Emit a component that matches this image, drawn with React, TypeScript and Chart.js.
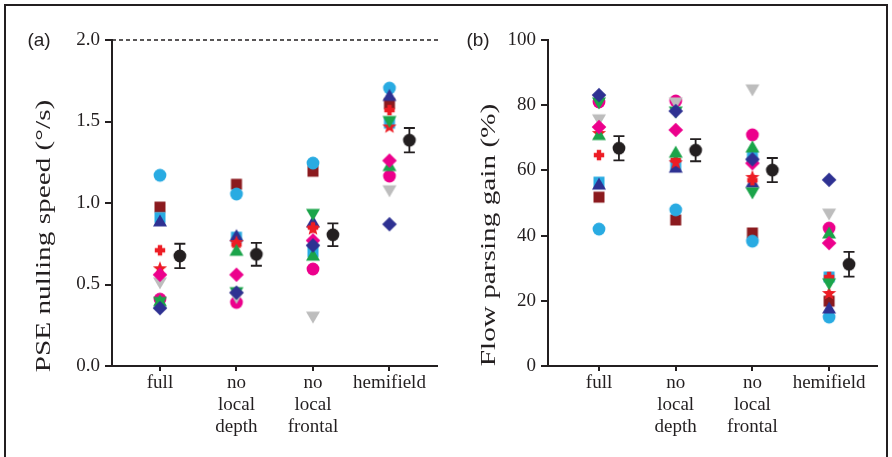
import React, { useEffect, useRef } from "react";
import { Chart, registerables } from "chart.js";
Chart.register(...registerables);

// ---------- data ----------
const categoryLabels: string[][] = [["full"], ["no", "local", "depth"], ["no", "local", "frontal"], ["hemifield"]];

// panel (a): PSE nulling speed (deg/s), one array per subject, categories in order
const pseLightBlueCircle = [1.17, 1.055, 1.245, 1.705];
const pseDarkRedSquare = [0.975, 1.115, 1.195, 1.61];
const pseLightBlueSquare = [0.91, 0.79, 0.7, 1.49];
const pseNavyTriangle = [0.89, 0.8, 0.885, 1.66];
const pseRedCross = [0.71, 0.745, 0.85, 1.57];
const pseRedStar = [0.6, 0.76, 0.845, 1.47];
const pseMagentaCircle = [0.41, 0.39, 0.595, 1.165];
const pseGrayDown = [0.51, 0.42, 0.3, 1.075];
const pseGreenUp = [0.4, 0.71, 0.68, 1.23];
const pseGreenDown = [0.39, 0.45, 0.93, 1.5];
const pseMagentaDiamond = [0.56, 0.56, 0.77, 1.26];
const pseNavyDiamond = [0.355, 0.45, 0.74, 0.87];
const pseMean = [0.675, 0.685, 0.805, 1.385];
const pseSem = [0.075, 0.07, 0.07, 0.075];
const pseTicks = [0, 0.5, 1, 1.5, 2];
const pseTickLabels = ["0.0", "0.5", "1.0", "1.5", "2.0"];

// panel (b): flow parsing gain (%)
const fpgLightBlueCircle = [42, 47.9, 38.3, 15.0];
const fpgDarkRedSquare = [51.8, 44.8, 40.8, 19.9];
const fpgLightBlueSquare = [56.4, 61.7, 64.1, 27.3];
const fpgNavyTriangle = [55.8, 61, 56.4, 17.8];
const fpgRedCross = [64.7, 63.2, 57, 27.3];
const fpgRedStar = [71.5, 62.5, 58.0, 22.4];
const fpgMagentaCircle = [81, 81.3, 70.9, 42.3];
const fpgGrayDown = [75.5, 80.7, 84.7, 46.6];
const fpgGreenUp = [71, 65.6, 67.2, 40.8];
const fpgGreenDown = [80.7, 77.9, 53.1, 25.2];
const fpgMagentaDiamond = [73.3, 72.4, 62.2, 37.7];
const fpgNavyDiamond = [83.1, 78.2, 63.4, 57.1];
const fpgMean = [66.8, 66.2, 60.1, 31.2];
const fpgSem = [3.7, 3.4, 3.7, 3.8];
const fpgTicks = [0, 20, 40, 60, 80, 100];
const fpgTickLabels = ["0", "20", "40", "60", "80", "100"];

// ---------- style ----------
const INK = "#231F20";
const SERIF = "'Liberation Serif', 'Times New Roman', serif";
const SANS = "'Liberation Sans', Arial, sans-serif";
const C = {
  lightBlue: "#29ABE2",
  darkRed: "#8B1A1E",
  navy: "#2E3192",
  red: "#ED1C24",
  magenta: "#EC008C",
  gray: "#BDBDBD",
  green: "#1BA44A",
};

// drawing order bottom -> top
const subjects = [
  { shape: "square", color: C.darkRed, a: pseDarkRedSquare, b: fpgDarkRedSquare },
  { shape: "square", color: C.lightBlue, a: pseLightBlueSquare, b: fpgLightBlueSquare },
  { shape: "circle", color: C.lightBlue, a: pseLightBlueCircle, b: fpgLightBlueCircle },
  { shape: "triUp", color: C.navy, a: pseNavyTriangle, b: fpgNavyTriangle },
  { shape: "plus", color: C.red, a: pseRedCross, b: fpgRedCross },
  { shape: "star", color: C.red, a: pseRedStar, b: fpgRedStar },
  { shape: "circle", color: C.magenta, a: pseMagentaCircle, b: fpgMagentaCircle },
  { shape: "triDown", color: C.gray, a: pseGrayDown, b: fpgGrayDown },
  { shape: "triUp", color: C.green, a: pseGreenUp, b: fpgGreenUp },
  { shape: "triDown", color: C.green, a: pseGreenDown, b: fpgGreenDown },
  { shape: "diamond", color: C.magenta, a: pseMagentaDiamond, b: fpgMagentaDiamond },
  { shape: "diamond", color: C.navy, a: pseNavyDiamond, b: fpgNavyDiamond },
];

function makeMarker(shape: string, color: string): HTMLCanvasElement {
  const S = 18;
  const c = document.createElement("canvas");
  c.width = S;
  c.height = S;
  const g = c.getContext("2d")!;
  g.fillStyle = color;
  const m = S / 2;
  g.beginPath();
  switch (shape) {
    case "circle":
      g.arc(m, m, 6.4, 0, Math.PI * 2);
      break;
    case "square":
      g.rect(m - 5.5, m - 5.5, 11, 11);
      break;
    case "triUp":
      g.moveTo(m, m - 6.5);
      g.lineTo(m + 7, m + 5.5);
      g.lineTo(m - 7, m + 5.5);
      g.closePath();
      break;
    case "triDown":
      g.moveTo(m, m + 6.5);
      g.lineTo(m + 7, m - 5.5);
      g.lineTo(m - 7, m - 5.5);
      g.closePath();
      break;
    case "diamond":
      g.moveTo(m, m - 7.3);
      g.lineTo(m + 7.3, m);
      g.lineTo(m, m + 7.3);
      g.lineTo(m - 7.3, m);
      g.closePath();
      break;
    case "plus":
      g.rect(m - 5.2, m - 2.2, 10.4, 4.4);
      g.rect(m - 2.2, m - 5.2, 4.4, 10.4);
      break;
    case "star": {
      for (let k = 0; k < 10; k++) {
        const r = k % 2 === 0 ? 7.5 : 3.2;
        const ang = -Math.PI / 2 + (k * Math.PI) / 5;
        const px = m + r * Math.cos(ang);
        const py = m + 0.5 + r * Math.sin(ang);
        if (k === 0) g.moveTo(px, py);
        else g.lineTo(px, py);
      }
      g.closePath();
      break;
    }
  }
  g.fill();
  return c;
}

type PanelCfg = {
  left: number;
  width: number;
  axisWidth: number;
  padRight: number;
  xMin: number;
  xMax: number;
  yMin: number;
  yMax: number;
  ticks: number[];
  tickLabels: string[];
  key: "a" | "b";
  mean: number[];
  sem: number[];
  title: string;
  titleBaseX: number;
  titleCenterY: number;
  panelLabel: string;
  panelLabelX: number;
  dashedTop: boolean;
};

const MEAN_OFFSET = 0.26;

function Panel({ cfg }: { cfg: PanelCfg }) {
  const ref = useRef<HTMLCanvasElement>(null);
  useEffect(() => {
    const datasets: any[] = subjects.map((s) => ({
      data: s[cfg.key].map((v, i) => ({ x: i, y: v })),
      pointStyle: makeMarker(s.shape, s.color),
      pointRadius: 6,
      pointHoverRadius: 6,
      backgroundColor: s.color,
      borderWidth: 0,
    }));
    datasets.push({
      data: cfg.mean.map((v, i) => ({ x: i + MEAN_OFFSET, y: v })),
      pointStyle: makeMarker("circle", INK),
      pointRadius: 6,
      pointHoverRadius: 6,
      backgroundColor: INK,
      borderWidth: 0,
    });
    // Chart.js draws dataset 0 last (on top) -> reverse
    datasets.reverse();

    const decor = {
      id: "decor",
      beforeDatasetsDraw(chart: any) {
        const ctx = chart.ctx;
        const xs = chart.scales.x;
        const ys = chart.scales.y;
        const area = chart.chartArea;
        ctx.save();
        ctx.strokeStyle = INK;
        // x axis line (slight overhang to the left)
        ctx.lineWidth = 2;
        ctx.beginPath();
        ctx.moveTo(area.left - 5, area.bottom);
        ctx.lineTo(area.right, area.bottom);
        ctx.stroke();
        if (cfg.dashedTop) {
          ctx.lineWidth = 1.5;
          ctx.setLineDash([4, 3]);
          const y = ys.getPixelForValue(cfg.yMax);
          ctx.beginPath();
          ctx.moveTo(area.left, y);
          ctx.lineTo(area.right, y);
          ctx.stroke();
          ctx.setLineDash([]);
        }
        // error bars
        ctx.lineWidth = 1.8;
        cfg.mean.forEach((m, i) => {
          const x = xs.getPixelForValue(i + MEAN_OFFSET);
          const y1 = ys.getPixelForValue(m + cfg.sem[i]);
          const y0 = ys.getPixelForValue(m - cfg.sem[i]);
          ctx.beginPath();
          ctx.moveTo(x, y0);
          ctx.lineTo(x, y1);
          ctx.moveTo(x - 5.5, y0);
          ctx.lineTo(x + 5.5, y0);
          ctx.moveTo(x - 5.5, y1);
          ctx.lineTo(x + 5.5, y1);
          ctx.stroke();
        });
        ctx.restore();
      },
      afterDraw(chart: any) {
        const ctx = chart.ctx;
        ctx.save();
        ctx.fillStyle = INK;
        // y-axis title
        ctx.translate(cfg.titleBaseX, cfg.titleCenterY);
        ctx.rotate(-Math.PI / 2);
        ctx.scale(1.33, 1);
        ctx.font = `22px ${SERIF}`;
        ctx.textAlign = "center";
        ctx.textBaseline = "alphabetic";
        ctx.fillText(cfg.title, 0, 0);
        ctx.restore();
        ctx.save();
        ctx.fillStyle = INK;
        ctx.font = `19px ${SANS}`;
        ctx.textAlign = "center";
        ctx.textBaseline = "middle";
        ctx.fillText(cfg.panelLabel, cfg.panelLabelX, 41);
        ctx.restore();
      },
    };

    const chart = new Chart(ref.current!, {
      type: "scatter",
      data: { datasets },
      options: {
        responsive: false,
        devicePixelRatio: 1,
        animation: false,
        events: [],
        layout: { autoPadding: false, padding: { left: 0, right: cfg.padRight, top: 40, bottom: 0 } },
        plugins: { legend: { display: false }, tooltip: { enabled: false } },
        scales: {
          x: {
            type: "linear",
            min: cfg.xMin,
            max: cfg.xMax,
            afterBuildTicks: (s: any) => {
              s.ticks = categoryLabels.map((_, i) => ({ value: i }));
            },
            afterFit: (s: any) => {
              s.height = 91;
            },
            ticks: {
              callback: (_v: any, i: number) => categoryLabels[i],
              font: { family: SERIF, size: 19, lineHeight: 1.16 },
              color: INK,
              padding: 1,
              maxRotation: 0,
              autoSkip: false,
            },
            grid: { drawOnChartArea: false, drawTicks: true, tickLength: 5, color: INK, lineWidth: 2 },
            border: { display: false },
          },
          y: {
            type: "linear",
            min: cfg.yMin,
            max: cfg.yMax,
            afterBuildTicks: (s: any) => {
              s.ticks = cfg.ticks.map((v) => ({ value: v }));
            },
            afterFit: (s: any) => {
              s.width = cfg.axisWidth;
            },
            ticks: {
              callback: (_v: any, i: number) => cfg.tickLabels[i],
              font: { family: SERIF, size: 19 },
              color: INK,
              padding: 5,
            },
            grid: { drawOnChartArea: false, drawTicks: true, tickLength: 7, color: INK, lineWidth: 2 },
            border: { display: true, color: INK, width: 2 },
          },
        },
      } as any,
      plugins: [decor],
    });
    return () => chart.destroy();
  }, []);
  return (
    <canvas
      ref={ref}
      width={cfg.width}
      height={457}
      style={{ position: "absolute", left: cfg.left, top: 0, width: cfg.width, height: 457 }}
    />
  );
}

const panelA: PanelCfg = {
  left: 0,
  width: 446,
  axisWidth: 112,
  padRight: 8,
  xMin: -0.627,
  xMax: 3.634,
  yMin: 0,
  yMax: 2,
  ticks: pseTicks,
  tickLabels: pseTickLabels,
  key: "a",
  mean: pseMean,
  sem: pseSem,
  title: "PSE nulling speed (°/s)",
  titleBaseX: 50,
  titleCenterY: 236,
  panelLabel: "(a)",
  panelLabelX: 39,
  dashedTop: true,
};

const panelB: PanelCfg = {
  left: 446,
  width: 446,
  axisWidth: 102,
  padRight: 14,
  xMin: -0.665,
  xMax: 3.638,
  yMin: 0,
  yMax: 100,
  ticks: fpgTicks,
  tickLabels: fpgTickLabels,
  key: "b",
  mean: fpgMean,
  sem: fpgSem,
  title: "Flow parsing gain (%)",
  titleBaseX: 49,
  titleCenterY: 235,
  panelLabel: "(b)",
  panelLabelX: 32,
  dashedTop: false,
};

export default function App() {
  return (
    <div
      style={{
        position: "absolute",
        left: 0,
        top: 0,
        width: 892,
        height: 457,
        background: "#fff",
        overflow: "hidden",
      }}
    >
      <Panel cfg={panelA} />
      <Panel cfg={panelB} />
      <div
        style={{
          position: "absolute",
          left: 4,
          top: 4,
          width: 880,
          height: 470,
          borderTop: `2px solid ${INK}`,
          borderLeft: `2px solid ${INK}`,
          borderRight: `2px solid ${INK}`,
          pointerEvents: "none",
        }}
      />
    </div>
  );
}
